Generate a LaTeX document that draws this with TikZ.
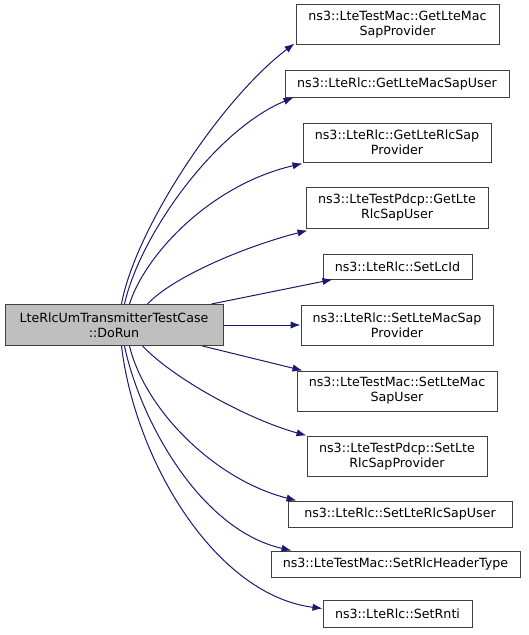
\documentclass[tikz,border=0pt]{standalone}
\usepackage{fontspec}
\setmainfont{DejaVu Sans}
\usetikzlibrary{arrows.meta}
\definecolor{edgecol}{HTML}{191970}
\definecolor{mainfill}{HTML}{BFBFBF}
\begin{document}
\begin{tikzpicture}[x=0.75pt,y=-0.75pt,
  fn/.style={draw=black!75, line width=0.75pt, align=center, font=\fontsize{9.5}{11.25}\selectfont, inner sep=0pt, anchor=center},
  call/.style={draw=edgecol, line width=0.75pt, -{Latex[length=7.5pt,width=5.5pt]}}]
\useasboundingbox (0,0) rectangle (528,635);
\node[fn, fill=mainfill, minimum width=218*0.75pt, minimum height=41*0.75pt] (main) at (114,325) {LteRlcUmTransmitterTestCase\\::DoRun};
\node[fn, minimum width=203*0.75pt, minimum height=40*0.75pt] (b1) at (397.5,25) {ns3::LteTestMac::GetLteMac\\SapProvider};
\node[fn, minimum width=224*0.75pt, minimum height=26*0.75pt] (b2) at (397,84) {ns3::LteRlc::GetLteMacSapUser};
\node[fn, minimum width=188*0.75pt, minimum height=39*0.75pt] (b3) at (397,142.5) {ns3::LteRlc::GetLteRlcSap\\Provider};
\node[fn, minimum width=182*0.75pt, minimum height=41*0.75pt] (b4) at (397,207.5) {ns3::LteTestPdcp::GetLte\\RlcSapUser};
\node[fn, minimum width=149*0.75pt, minimum height=25*0.75pt] (b5) at (397.5,266.5) {ns3::LteRlc::SetLcId};
\node[fn, minimum width=192*0.75pt, minimum height=40*0.75pt] (b6) at (397,325) {ns3::LteRlc::SetLteMacSap\\Provider};
\node[fn, minimum width=200*0.75pt, minimum height=40*0.75pt] (b7) at (397,391) {ns3::LteTestMac::SetLteMac\\SapUser};
\node[fn, minimum width=180*0.75pt, minimum height=40*0.75pt] (b8) at (397,456) {ns3::LteTestPdcp::SetLte\\RlcSapProvider};
\node[fn, minimum width=224*0.75pt, minimum height=26*0.75pt] (b9) at (400,514) {ns3::LteRlc::SetLteRlcSapUser};
\node[fn, minimum width=249*0.75pt, minimum height=26*0.75pt] (b10) at (395.5,564) {ns3::LteTestMac::SetRlcHeaderType};
\node[fn, minimum width=149*0.75pt, minimum height=27*0.75pt] (b11) at (397.5,613.5) {ns3::LteRlc::SetRnti};

\draw[call] ([xshift=117*0.75pt]main.north west) .. controls (135,230) and (220,100) .. ([xshift=-1*0.75pt,yshift=2*0.75pt]b1.south west);
\draw[call] ([xshift=120*0.75pt]main.north west) .. controls (140,235) and (215,130) .. ([xshift=9*0.75pt]b2.south west);
\draw[call] ([xshift=125*0.75pt]main.north west) .. controls (145,255) and (210,185) .. ([yshift=-1*0.75pt]b3.south west);
\draw[call] ([xshift=143*0.75pt]main.north west) .. controls (175,275) and (250,245) .. ([xshift=2*0.75pt,yshift=-2*0.75pt]b4.south west);
\draw[call] ([xshift=207*0.75pt]main.north west) -- ([xshift=10*0.75pt]b5.south west);
\draw[call] (main.east) -- (b6.west);
\draw[call] ([xshift=198*0.75pt]main.south west) -- ([xshift=6*0.75pt]b7.north west);
\draw[call] ([xshift=138*0.75pt]main.south west) .. controls (175,380) and (250,420) .. (b8.north west);
\draw[call] ([xshift=125*0.75pt]main.south west) .. controls (145,410) and (215,480) .. ([xshift=9*0.75pt]b9.north west);
\draw[call] ([xshift=120*0.75pt]main.south west) .. controls (140,420) and (200,530) .. ([xshift=21*0.75pt]b10.north west);
\draw[call] ([xshift=117*0.75pt]main.south west) .. controls (135,460) and (215,595) .. ([yshift=5*0.75pt]b11.west);
\end{tikzpicture}
\end{document}
